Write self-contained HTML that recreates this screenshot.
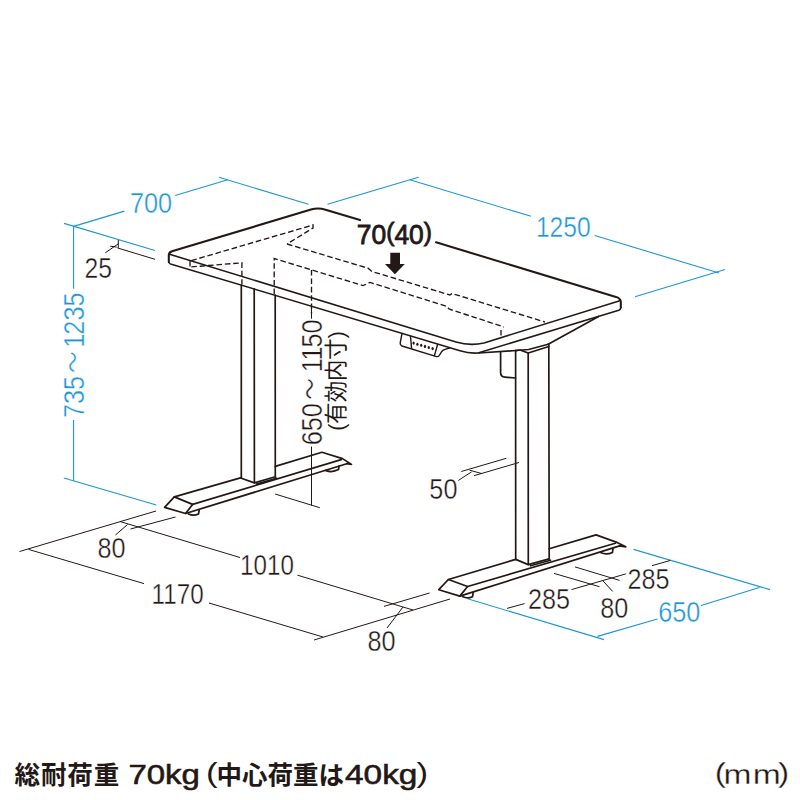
<!DOCTYPE html>
<html lang="ja">
<head>
<meta charset="utf-8">
<title>寸法図</title>
<style>
html,body{margin:0;padding:0;background:#fff;}
body{width:800px;height:800px;overflow:hidden;position:relative;}
svg{display:block;position:absolute;left:0;top:0;}
text{font-family:"Liberation Sans","Noto Sans CJK JP",sans-serif;}
.k{stroke:#231815;fill:none;stroke-linecap:round;stroke-linejoin:round;}
.b{stroke:#1c97d5;fill:none;stroke-width:1.1;stroke-linecap:butt;}
.t{stroke:#231815;fill:none;stroke-width:1;stroke-linecap:butt;}
.d{stroke:#231815;fill:none;stroke-width:1.35;stroke-dasharray:5.6 2.8;stroke-linecap:butt;stroke-linejoin:miter;}
.num{font-size:29px;fill:#231815;stroke:#fff;stroke-width:0.4;}
.bn{font-size:29px;fill:#1c97d5;stroke:#fff;stroke-width:0.4;}
</style>
</head>
<body>
<svg width="800" height="800" viewBox="0 0 800 800">
<rect x="0" y="0" width="800" height="800" fill="#fff"/>

<!-- ============ blue dimension lines ============ -->
<g class="b">
  <path d="M64,223.4 L155,250.5"/>
  <path d="M73.6,226.4 L124.4,211.1"/>
  <path d="M175.2,195.5 L227.8,179.7"/>
  <path d="M219,177.3 L308.5,204.3"/>
  <path d="M327.5,204.3 L418.5,177.3"/>
  <path d="M409.8,179.8 L531,216.3"/>
  <path d="M594.7,235.5 L719,273"/>
  <path d="M635,296.8 L725,269.5"/>
  <path d="M73.6,226.4 L73.6,288.8"/>
  <path d="M73.6,420 L73.6,481"/>
  <path d="M63.8,478 L156.3,505"/>
  <path d="M467.6,598.8 L604,639.6"/>
  <path d="M597.5,636.4 L657.5,619"/>
  <path d="M701,605.5 L759.5,587.5"/>
  <path d="M633.5,549.4 L770,589.6"/>
</g>

<!-- ============ hidden (dashed) lines ============ -->
<g class="d">
  <path d="M191.3,260.6 L313,225 L313,228 L287,244"/>
  <path d="M190,261 L190,266.5"/>
  <path d="M191.3,266.9 L241.9,262.8 L241.9,284.5"/>
  <path d="M287,244 L368,268.2 L372,271.5 L450,295 L452,293.5 L545,322"/>
  <path d="M274.2,294 L274.2,258.5 L363,285.6 L370,282.4 L447,306.4 L449,309 L452,310 L504,327"/>
  <path d="M501,330 L501,338"/>
  <path d="M311.5,270 L311.5,314"/>
</g>

<!-- ============ desk top ============ -->
<g class="k" stroke-width="2.05">
  <!-- top face outline -->
  <path d="M168.8,262 L168.8,255 Q168.8,252.3 172,251.2 L311,209.6 Q318,207.4 325.5,209.7 L360,220.1"/>
  <path d="M436,242.3 L616,296.9 Q620.8,298.5 620.8,302 L620.8,307.6"/>
</g>
<g class="k" stroke-width="1.55">
  <!-- front top edge + FR corner + right top edge -->
  <path d="M169.5,254.2 L456,342 Q470,346.2 484,343 L619.8,300.8"/>
  <!-- bottom edge -->
  <path d="M168.8,262 Q169,263.4 170.5,263.9 L460,350.8 Q469,353.6 478,353 L618.8,310.3 Q620.6,309.6 620.8,307.6"/>
</g>

<!-- ============ controller ============ -->
<g class="k" stroke-width="1.4">
  <path d="M402,333.5 L400.2,343 Q400,345.2 402,346 L436.5,356.6 Q438.8,357 439.6,355 L441.5,351.8 Q442.5,350.2 445,349.4 L450,347.9"/>
  <path d="M410.5,336.2 L411.6,348.6"/>
  <path d="M437.6,344.5 L434.4,355.6"/>
</g>
<g fill="#231815" stroke="none">
  <ellipse cx="413.6" cy="343.1" rx="1.15" ry="1.55"/>
  <ellipse cx="417.4" cy="344.2" rx="1.15" ry="1.55"/>
  <ellipse cx="421.2" cy="345.3" rx="1.15" ry="1.55"/>
  <ellipse cx="425.0" cy="346.4" rx="1.15" ry="1.55"/>
  <ellipse cx="428.8" cy="347.5" rx="1.15" ry="1.55"/>
  <ellipse cx="432.6" cy="348.6" rx="1.15" ry="1.55"/>
</g>

<!-- ============ right bracket / motor / leg ============ -->
<g class="k" stroke-width="1.7">
  <path d="M478.8,353 L516,350.5"/>
  <path d="M598.6,316.5 L548.2,344.2"/>
  <path d="M516,350.5 L528.6,349.5 L548.2,344.2"/>
  <path d="M515.6,350.6 L520,350 L528.2,353 L548.9,346.5"/>
  <path d="M500.6,352 L500.6,372.5 Q500.6,376.8 505,377.2 L515.4,378"/>
  <!-- right leg -->
  <path d="M515.6,350.6 L515.7,559.4"/>
  <path d="M528.2,353 L528.3,564.6"/>
  <path d="M548.8,344.4 L549.2,558.9"/>
  <path d="M515.7,559.4 L528.3,564.6 L549.2,558.9"/>
</g>

<!-- ============ right foot ============ -->
<g class="k" stroke-width="1.7">
  <path d="M448.4,579.5 L467.6,586.5 L459.8,596.1 L438.8,589.7 Z"/>
  <path d="M448.4,579.5 L515.7,559.4"/>
  <path d="M549.2,548.8 L596,534.9 L617,542.4 L625.8,546.8 L619.6,545.9"/>
  <path d="M467.6,586.5 L615.3,543.3"/>
  <path d="M459.8,596.1 L619.6,545.9"/>
  <path d="M462.5,596.6 Q467.5,599.2 472.5,596.8 L473.2,592.6"/>
  <path d="M600.5,552.6 Q606.5,555.4 612.5,552.4 L613,548.4"/>
  <path d="M530.5,565.8 L550.5,560.2"/>
</g>

<!-- ============ left leg ============ -->
<g class="k" stroke-width="1.7">
  <path d="M241.3,285 L241.3,478.2"/>
  <path d="M254.2,288.8 L254.4,482.9"/>
  <path d="M275.2,295 L275.3,476.8"/>
  <path d="M241.3,478.2 L254.4,482.9 L275.3,476.8"/>
</g>

<!-- ============ left foot ============ -->
<g class="k" stroke-width="1.7">
  <path d="M174.3,496.9 L192.6,504.4 L185.6,513.5 L164.6,507.4 Z"/>
  <path d="M174.3,496.9 L241.3,477.6"/>
  <path d="M275.3,466.4 L321.9,452.3 L342.5,458.6 L351.5,464.4 L346.7,463.7"/>
  <path d="M192.6,504.4 L341.2,459.6"/>
  <path d="M185.6,513.5 L346.7,463.7"/>
  <path d="M188.5,514 Q193.5,516.4 198.5,514 L199.2,510"/>
  <path d="M325.5,470.4 Q332,473 338.5,469.6 L339,466.2"/>
  <path d="M256.5,484.1 L276.5,478.2"/>
</g>

<!-- ============ thin black dimension lines ============ -->
<g class="t">
  <!-- 25 -->
  <path d="M117.4,247.9 L155,259.3"/>
  <path d="M118.3,240 L118.3,247.9"/>
  <path d="M105.3,252.8 L119,243.3"/>
  <path d="M110.2,246.2 L116.8,247.1"/>
  <!-- 650-1150 -->
  <path d="M311.5,308.7 L311.5,318.7"/>
  <path d="M311.5,446.6 L311.5,505.5"/>
  <path d="M275.1,494 L319.8,507.7"/>
  <!-- 50 -->
  <path d="M461.3,471.5 L506.3,458.3"/>
  <path d="M474,475.7 L519,462.5"/>
  <path d="M458.3,480.5 Q465.5,475.6 471.5,472"/>
  <path d="M469.5,470.2 L482,473.6"/>
  <!-- bottom-left -->
  <path d="M19.5,551.5 L156,511"/>
  <path d="M130.5,529 L175.5,517"/>
  <path d="M120,521.5 L240,557.5"/>
  <path d="M297.5,575.2 L413,610"/>
  <path d="M28.5,549.4 L144,583.6"/>
  <path d="M209,603 L323,637"/>
  <path d="M314,640 L450,599"/>
  <path d="M384,606.4 L429.6,593"/>
  <path d="M127.5,524.5 L115.5,535"/>
  <path d="M403,607 L387,628"/>
  <!-- right foot -->
  <path d="M507,608.4 L524.5,603.6"/>
  <path d="M571.5,589.6 L625.8,573.9"/>
  <path d="M575,566.9 L619.6,580.4"/>
  <path d="M554,573.4 L599.5,586.7"/>
  <path d="M603,580.9 L612.6,591.4"/>
  <path d="M652,565.7 L670.4,560.4"/>
</g>

<!-- ============ arrow ============ -->
<path d="M390.3,252.8 L400,252.8 L400,264 L404.8,264 L394.9,274.3 L385,264 L390.3,264 Z" fill="#231815"/>

<!-- ============ labels ============ -->
<g class="bn" text-anchor="middle">
  <text transform="translate(151.1,212.8) scale(0.87,1)">700</text>
  <text transform="translate(563.3,236.6) scale(0.85,1)">1250</text>
  <text transform="translate(679.3,622.1) scale(0.87,1)">650</text>
  <text transform="translate(83.9,418) rotate(-90) scale(0.87,1)" text-anchor="start"><tspan x="0" y="0">735</tspan><tspan x="64.1" y="-2.2" font-size="25" text-anchor="middle">～</tspan><tspan x="80.7" y="0" dx="0 -1 0 0">1235</tspan></text>
</g>
<g class="num" text-anchor="middle">
  <text transform="translate(98.2,277.7) scale(0.85,1)">25</text>
  <text transform="translate(111.5,557.6) scale(0.87,1)">80</text>
  <text transform="translate(177.6,603.5) scale(0.835,1)">1170</text>
  <text transform="translate(267,575.1) scale(0.835,1)">1010</text>
  <text transform="translate(381.5,651.1) scale(0.87,1)">80</text>
  <text transform="translate(443.4,498.6) scale(0.87,1)">50</text>
  <text transform="translate(549,608.5) scale(0.87,1)">285</text>
  <text transform="translate(614.3,618.1) scale(0.87,1)">80</text>
  <text transform="translate(648.5,588.9) scale(0.87,1)">285</text>
  <text transform="translate(321.6,445.2) rotate(-90) scale(0.87,1)" text-anchor="start"><tspan x="0" y="0">650</tspan><tspan x="64.8" y="-2.2" font-size="25" text-anchor="middle">～</tspan><tspan x="83.9" y="0" dx="0 -0.4 -1.4 0">1150</tspan></text>
  <text transform="translate(343.8,381) rotate(-90) scale(0.95,1)" font-size="22.5" stroke="none">(有効内寸)</text>
</g>
<text transform="translate(394.4,243.8) scale(0.965,1)" text-anchor="middle" font-size="27.4" fill="#231815" stroke="#231815" stroke-width="0.8">70<tspan font-size="25.5" dy="-2.5">(</tspan><tspan dy="2.5">40</tspan><tspan font-size="25.5" dy="-2.5">)</tspan></text>

<!-- ============ caption ============ -->
<text fill="#231815" font-size="25.5" font-weight="bold"><tspan x="14.6" y="784.2" letter-spacing="0.85">総耐荷重</tspan><tspan x="122" y="784.2"> </tspan><tspan x="128.4" y="784.3" font-size="27.2" font-weight="normal" stroke="#231815" stroke-width="0.55" textLength="71.6" lengthAdjust="spacingAndGlyphs">70kg</tspan><tspan x="200" y="784.2"> </tspan><tspan x="206" y="781.8" font-size="27" font-weight="normal" textLength="11.6" lengthAdjust="spacingAndGlyphs">(</tspan><tspan x="216.6" y="784.2">中心荷重は</tspan><tspan x="345" y="784.3" font-size="27.2" font-weight="normal" stroke="#231815" stroke-width="0.55" textLength="72.4" lengthAdjust="spacingAndGlyphs">40kg</tspan><tspan x="416.6" y="781.8" font-size="27" font-weight="normal" textLength="11.6" lengthAdjust="spacingAndGlyphs">)</tspan></text>
<text transform="translate(0,783.7) scale(1.18,1)" font-size="28.5" fill="#231815" stroke="#fff" stroke-width="0.3" x="605.7 613.1 637.9 659.3" y="-1.3 0 0 -1.3">(mm)</text>
</svg>
</body>
</html>
